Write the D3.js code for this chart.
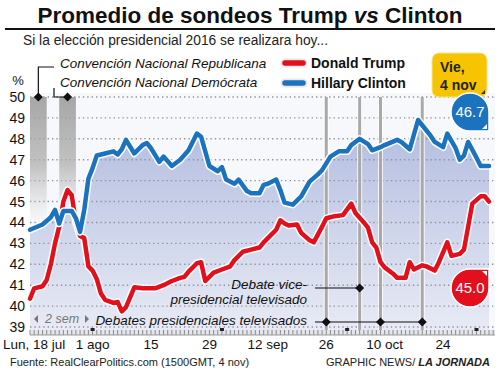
<!DOCTYPE html>
<html>
<head>
<meta charset="utf-8">
<script src="https://cdn.jsdelivr.net/npm/d3@7"></script>
<style>
  body { margin: 0; background: #fff; }
  svg { display: block; font-family: "Liberation Sans", Arial, sans-serif; }
</style>
</head>
<body>
<script>
// Promedio RCP, 17 jul - 4 nov 2016
const clintonDates = ["2016-07-17","2016-07-20","2016-07-22","2016-07-23","2016-07-24","2016-07-25","2016-07-27","2016-07-28","2016-07-29","2016-07-30","2016-07-31","2016-08-01","2016-08-02","2016-08-04","2016-08-06","2016-08-07","2016-08-08","2016-08-09","2016-08-11","2016-08-13","2016-08-14","2016-08-15","2016-08-17","2016-08-18","2016-08-20","2016-08-22","2016-08-24","2016-08-26","2016-08-27","2016-08-29","2016-08-31","2016-09-01","2016-09-02","2016-09-04","2016-09-05","2016-09-07","2016-09-08","2016-09-10","2016-09-11","2016-09-12","2016-09-14","2016-09-15","2016-09-16","2016-09-18","2016-09-20","2016-09-22","2016-09-24","2016-09-25","2016-09-27","2016-09-29","2016-10-01","2016-10-02","2016-10-04","2016-10-06","2016-10-07","2016-10-09","2016-10-10","2016-10-13","2016-10-14","2016-10-16","2016-10-18","2016-10-19","2016-10-21","2016-10-22","2016-10-24","2016-10-25","2016-10-27","2016-10-28","2016-10-29","2016-10-30","2016-11-01","2016-11-02","2016-11-04"];
const clintonValues = [43.65,43.9,44.25,44.6,43.95,44.55,44.55,44.2,43.55,44.6,46.1,46.6,47.2,47.3,47.4,47.25,47.5,47.95,47.3,47.7,47.8,47.55,46.9,47.15,46.7,47.0,47.45,48.25,48.1,46.7,46.45,46.65,46.05,45.85,46.05,45.5,45.4,45.4,45.8,45.85,46.05,45.55,44.95,44.85,45.25,45.95,46.3,46.5,47.15,47.4,47.4,47.7,48.0,47.75,47.45,47.6,47.7,47.95,47.85,47.5,48.9,48.65,48.15,47.85,47.6,48.25,47.55,47.0,47.2,47.85,47.1,46.7,46.7];

const trumpDates = ["2016-07-17","2016-07-18","2016-07-20","2016-07-21","2016-07-22","2016-07-23","2016-07-24","2016-07-25","2016-07-26","2016-07-27","2016-07-28","2016-07-29","2016-07-30","2016-07-31","2016-08-01","2016-08-02","2016-08-03","2016-08-04","2016-08-06","2016-08-07","2016-08-08","2016-08-09","2016-08-11","2016-08-13","2016-08-16","2016-08-18","2016-08-20","2016-08-22","2016-08-23","2016-08-24","2016-08-26","2016-08-27","2016-08-28","2016-08-30","2016-09-01","2016-09-03","2016-09-04","2016-09-06","2016-09-08","2016-09-10","2016-09-11","2016-09-12","2016-09-14","2016-09-15","2016-09-16","2016-09-17","2016-09-19","2016-09-20","2016-09-22","2016-09-23","2016-09-25","2016-09-26","2016-09-28","2016-09-30","2016-10-02","2016-10-03","2016-10-05","2016-10-06","2016-10-07","2016-10-08","2016-10-09","2016-10-10","2016-10-12","2016-10-13","2016-10-15","2016-10-16","2016-10-17","2016-10-19","2016-10-20","2016-10-22","2016-10-23","2016-10-25","2016-10-26","2016-10-28","2016-10-29","2016-10-30","2016-10-31","2016-11-02","2016-11-03","2016-11-04"];
const trumpValues = [40.35,40.85,40.95,41.25,42.0,43.0,43.8,45.0,45.55,45.3,44.0,43.35,43.25,41.9,41.7,41.3,40.6,40.3,40.15,40.2,39.75,39.95,40.9,40.85,40.85,41.0,41.2,41.35,41.4,41.65,42.05,42.1,41.2,41.6,41.75,41.9,42.2,42.6,42.7,42.8,43.05,43.25,43.65,44.1,43.95,43.85,43.9,43.5,43.15,43.05,43.8,44.2,44.3,44.35,44.9,44.45,44.0,43.75,43.05,42.8,42.1,41.85,41.55,41.35,41.35,42.1,41.75,41.95,41.9,41.7,42.1,43.05,42.4,42.5,42.7,43.8,44.9,45.25,45.25,45.0];

const conventions = [["2016-07-17","2016-07-21"],["2016-07-24","2016-07-28"]];
const conventionLabels = ["Convención Nacional Republicana","Convención Nacional Demócrata"];
const presDebates = ["2016-09-26","2016-10-09","2016-10-19"];
const vpDebate = "2016-10-04";
const yTicks = [39,40,41,42,43,44,45,46,47,48,49,50];
const xTickDates = ["2016-07-18","2016-08-01","2016-08-15","2016-08-29","2016-09-12","2016-09-26","2016-10-10","2016-10-24"];
const xTickLabels = ["Lun, 18 jul","1 ago","15","29","12 sep","26","10 oct","24"];

const parse = d3.timeParse("%Y-%m-%d");
const clinton = clintonDates.map((d, i) => ({date: parse(d), v: clintonValues[i]}));
const trump = trumpDates.map((d, i) => ({date: parse(d), v: trumpValues[i]}));

const W = 500, H = 376;
const pLeft = 30, pRight = 495, pTop = 97, axisY = 331;
const RED = "#e2101c", BLUE = "#1b72bf";

const svg = d3.select("body").append("svg")
    .attr("width", W).attr("height", H);

const x = d3.scaleTime()
    .domain([parse("2016-07-17"), parse("2016-11-04")])
    .range([30, 489]);
const y = d3.scaleLinear().domain([39, 50]).range([327, 97]);

const defs = svg.append("defs");
const areaGrad = defs.append("linearGradient").attr("id", "areaGrad")
    .attr("x1", 0).attr("y1", 0).attr("x2", 0).attr("y2", 1);
areaGrad.append("stop").attr("offset", "0%").attr("stop-color", "#b2bce0");
areaGrad.append("stop").attr("offset", "100%").attr("stop-color", "#e8ebf5");
const bandGrad = defs.append("linearGradient").attr("id", "bandGrad")
    .attr("x1", 0).attr("y1", 0).attr("x2", 0).attr("y2", 1);
bandGrad.append("stop").attr("offset", "0%").attr("stop-color", "#9d9d9d").attr("stop-opacity", 0.9);
bandGrad.append("stop").attr("offset", "55%").attr("stop-color", "#b0b0b0").attr("stop-opacity", 0.75);
bandGrad.append("stop").attr("offset", "100%").attr("stop-color", "#c8c8c8").attr("stop-opacity", 0);

// title
const title = svg.append("text")
    .attr("x", W / 2).attr("y", 23)
    .attr("text-anchor", "middle")
    .style("font-size", "22.5px").style("font-weight", "bold").attr("fill", "#111");
title.append("tspan").text("Promedio de sondeos Trump ");
title.append("tspan").style("font-style", "italic").text("vs");
title.append("tspan").text(" Clinton");

svg.append("rect").attr("x", 5).attr("y", 28).attr("width", 490).attr("height", 2).attr("fill", "#111");

svg.append("text").attr("x", 23).attr("y", 45)
    .style("font-size", "13.8px").attr("fill", "#222")
    .text("Si la elección presidencial 2016 se realizara hoy...");

// plot background + area under clinton
svg.append("rect").attr("x", pLeft).attr("y", pTop - 4)
    .attr("width", pRight - pLeft).attr("height", axisY - pTop + 4)
    .attr("fill", "#f7f8fb");

const area = d3.area()
    .x(d => x(d.date)).y0(axisY).y1(d => y(d.v));
svg.append("path").datum(clinton)
    .attr("d", area).attr("fill", "url(#areaGrad)");

// grid
svg.append("g").selectAll("line").data(yTicks).join("line")
    .attr("x1", pLeft).attr("x2", pRight)
    .attr("y1", d => y(d)).attr("y2", d => y(d))
    .attr("stroke", "#8f949e").attr("stroke-width", 1.4)
    .attr("stroke-dasharray", "1.4,3");

// convention bands
svg.append("g").selectAll("rect").data(conventions).join("rect")
    .attr("x", d => x(parse(d[0])))
    .attr("width", d => x(parse(d[1])) - x(parse(d[0])))
    .attr("y", pTop).attr("height", 125)
    .attr("fill", "url(#bandGrad)");

// debate lines
const debateDates = presDebates.concat([vpDebate]);
svg.append("g").selectAll("rect").data(debateDates).join("rect")
    .attr("x", d => x(parse(d)) - 2.5).attr("width", 5)
    .attr("y", pTop).attr("height", axisY - pTop)
    .attr("fill", "#fff").attr("opacity", 0.8);
svg.append("g").selectAll("rect").data(debateDates).join("rect")
    .attr("x", d => x(parse(d)) - 1.5).attr("width", 3)
    .attr("y", pTop).attr("height", axisY - pTop)
    .attr("fill", "#a9a9a9");

// y labels
svg.append("g").selectAll("text").data(yTicks).join("text")
    .attr("x", 25).attr("y", d => y(d) + 5)
    .attr("text-anchor", "end")
    .style("font-size", "14px").attr("fill", "#111")
    .text(d => d);
svg.append("text").attr("x", 18).attr("y", 85).attr("text-anchor", "middle")
    .style("font-size", "13px").attr("fill", "#111").text("%");

// x axis ruler
const axisG = svg.append("g");
axisG.append("rect").attr("x", pLeft).attr("y", axisY - 1).attr("width", pRight - pLeft).attr("height", 5)
    .attr("fill", "#e4e6ec");
axisG.selectAll("line.day").data(d3.timeDay.range(parse("2016-07-17"), parse("2016-11-06")))
  .join("line").attr("class", "day")
    .attr("x1", d => x(d)).attr("x2", d => x(d))
    .attr("y1", axisY - 1).attr("y2", axisY + 4)
    .attr("stroke", "#8a8a8a").attr("stroke-width", 1);
axisG.append("line").attr("x1", pLeft).attr("x2", pRight)
    .attr("y1", axisY + 4).attr("y2", axisY + 4)
    .attr("stroke", "#9a9a9a");
axisG.selectAll("rect.month").data(d3.timeMonth.range(parse("2016-08-01"), parse("2016-11-02")))
  .join("rect").attr("class", "month")
    .attr("x", d => x(d) - 2).attr("y", axisY - 3).attr("width", 4).attr("height", 3)
    .attr("fill", "#222");

svg.append("g").selectAll("text").data(xTickDates).join("text")
    .attr("x", d => x(parse(d))).attr("y", 349)
    .attr("text-anchor", "middle")
    .style("font-size", "13.5px").attr("fill", "#111")
    .text((d, i) => xTickLabels[i]);

// lines
const line = d3.line().x(d => x(d.date)).y(d => y(d.v));
[[trump, RED], [clinton, BLUE]].forEach(([data, col]) => {
  svg.append("path").datum(data).attr("d", line)
      .attr("fill", "none").attr("stroke", "#fff").attr("stroke-width", 7.5)
      .attr("stroke-linejoin", "round").attr("stroke-linecap", "round");
  svg.append("path").datum(data).attr("d", line)
      .attr("fill", "none").attr("stroke", col).attr("stroke-width", 4.5)
      .attr("stroke-linejoin", "round").attr("stroke-linecap", "round");
});

// diamonds helper
const diamond = (g, cx, cy) => g.append("path")
    .attr("d", `M${cx},${cy - 4.5}L${cx + 4.5},${cy}L${cx},${cy + 4.5}L${cx - 4.5},${cy}Z`)
    .attr("fill", "#111");

// convention labels
const c1 = (x(parse(conventions[0][0])) + x(parse(conventions[0][1]))) / 2;
const c2 = (x(parse(conventions[1][0])) + x(parse(conventions[1][1]))) / 2;
svg.append("path").attr("d", `M${c1},${pTop}V67H54`).attr("fill", "none").attr("stroke", "#111").attr("stroke-width", 1.2);
svg.append("path").attr("d", `M54,88V${pTop}H${c2}`).attr("fill", "none").attr("stroke", "#111").attr("stroke-width", 1.2);
diamond(svg, c1, pTop);
diamond(svg, c2, pTop);
svg.append("g").selectAll("text").data(conventionLabels).join("text")
    .attr("x", 60).attr("y", (d, i) => 68 + i * 19)
    .style("font-size", "13.5px").style("font-style", "italic").attr("fill", "#111")
    .text(d => d);

// legend
const legend = [["Donald Trump", RED], ["Hillary Clinton", BLUE]];
legend.forEach(([name, col], i) => {
  const ly = 63 + i * 20;
  svg.append("line").attr("x1", 285).attr("x2", 303).attr("y1", ly).attr("y2", ly)
      .attr("stroke", "#e8e8ee").attr("stroke-width", 9).attr("stroke-linecap", "round");
  svg.append("line").attr("x1", 285).attr("x2", 303).attr("y1", ly).attr("y2", ly)
      .attr("stroke", col).attr("stroke-width", 5.5).attr("stroke-linecap", "round");
  svg.append("text").attr("x", 311).attr("y", ly + 5)
      .style("font-size", "14px").style("font-weight", "bold").attr("fill", "#111")
      .text(name);
});

// date box
svg.append("rect").attr("x", 432).attr("y", 53).attr("width", 55).attr("height", 44).attr("rx", 7)
    .attr("fill", "#f6c400").attr("stroke", "#fbe38a").attr("stroke-width", 1);
svg.append("path").attr("d", "M485,90L485,94L481,94Z").attr("fill", "#333");
svg.append("text").attr("x", 440).attr("y", 72).style("font-size", "14px").style("font-weight", "bold")
    .attr("fill", "#222").text("Vie,");
svg.append("text").attr("x", 440).attr("y", 90).style("font-size", "14px").style("font-weight", "bold")
    .attr("fill", "#222").text("4 nov");

// value bubbles
const lastC = clinton[clinton.length - 1], lastT = trump[trump.length - 1];
const r = 19;
const bx = x(lastC.date) - r;
const cyB = 112, cyR = 288;
svg.append("path")
    .attr("d", `M${bx + r},${cyB}L${bx + r},${cyB + r}L${bx},${cyB + r}A${r},${r} 0 1 1 ${bx + r},${cyB}Z`)
    .attr("fill", BLUE).attr("stroke", "#fff").attr("stroke-width", 1.5);
svg.append("path").attr("d", `M${bx + r - 2},${cyB + r - 2}L${bx + r - 7},${cyB + r - 2}L${bx + r - 2},${cyB + r - 7}Z`).attr("fill", "#fff");
svg.append("text").attr("x", bx).attr("y", cyB + 5).attr("text-anchor", "middle")
    .style("font-size", "15px").attr("fill", "#fff").text(lastC.v.toFixed(1));

svg.append("path")
    .attr("d", `M${bx},${cyR - r}L${bx + r},${cyR - r}L${bx + r},${cyR}A${r},${r} 0 1 1 ${bx},${cyR - r}Z`)
    .attr("fill", RED).attr("stroke", "#fff").attr("stroke-width", 1.5);
svg.append("path").attr("d", `M${bx + r - 2},${cyR - r + 2}L${bx + r - 7},${cyR - r + 2}L${bx + r - 2},${cyR - r + 7}Z`).attr("fill", "#fff");
svg.append("text").attr("x", bx).attr("y", cyR + 5).attr("text-anchor", "middle")
    .style("font-size", "15px").attr("fill", "#fff").text(lastT.v.toFixed(1));

// debate annotations
const vx = x(parse(vpDebate));
svg.append("text").attr("x", 307).attr("y", 289).attr("text-anchor", "end")
    .style("font-size", "13.5px").style("font-style", "italic").attr("fill", "#111").text("Debate vice-");
svg.append("text").attr("x", 307).attr("y", 304).attr("text-anchor", "end")
    .style("font-size", "13.5px").style("font-style", "italic").attr("fill", "#111").text("presidencial televisado");
svg.append("line").attr("x1", 315).attr("x2", vx).attr("y1", 288).attr("y2", 288)
    .attr("stroke", "#111").attr("stroke-width", 1.2);
diamond(svg, vx, 288);

const pxs = presDebates.map(d => x(parse(d)));
svg.append("text").attr("x", 307).attr("y", 325).attr("text-anchor", "end")
    .style("font-size", "13.5px").style("font-style", "italic").attr("fill", "#111").text("Debates presidenciales televisados");
svg.append("line").attr("x1", 315).attr("x2", d3.max(pxs)).attr("y1", 322).attr("y2", 322)
    .attr("stroke", "#111").attr("stroke-width", 1.2);
pxs.forEach(px => diamond(svg, px, 322));

// 2 sem scale
svg.append("path").attr("d", "M34,319L38,315L38,323Z").attr("fill", "#777");
svg.append("path").attr("d", "M89,319L85,315L85,323Z").attr("fill", "#777");
svg.append("text").attr("x", 45).attr("y", 323)
    .style("font-size", "12.5px").style("font-style", "italic").attr("fill", "#777").text("2 sem");

// footer
svg.append("text").attr("x", 10).attr("y", 366)
    .style("font-size", "11px").attr("fill", "#222")
    .text("Fuente: RealClearPolitics.com (1500GMT, 4 nov)");
const credit = svg.append("text").attr("x", 490).attr("y", 366).attr("text-anchor", "end")
    .style("font-size", "11px").attr("fill", "#222");
credit.append("tspan").text("GRAPHIC NEWS/ ");
credit.append("tspan").style("font-weight", "bold").style("font-style", "italic").text("LA JORNADA");
</script>
</body>
</html>
